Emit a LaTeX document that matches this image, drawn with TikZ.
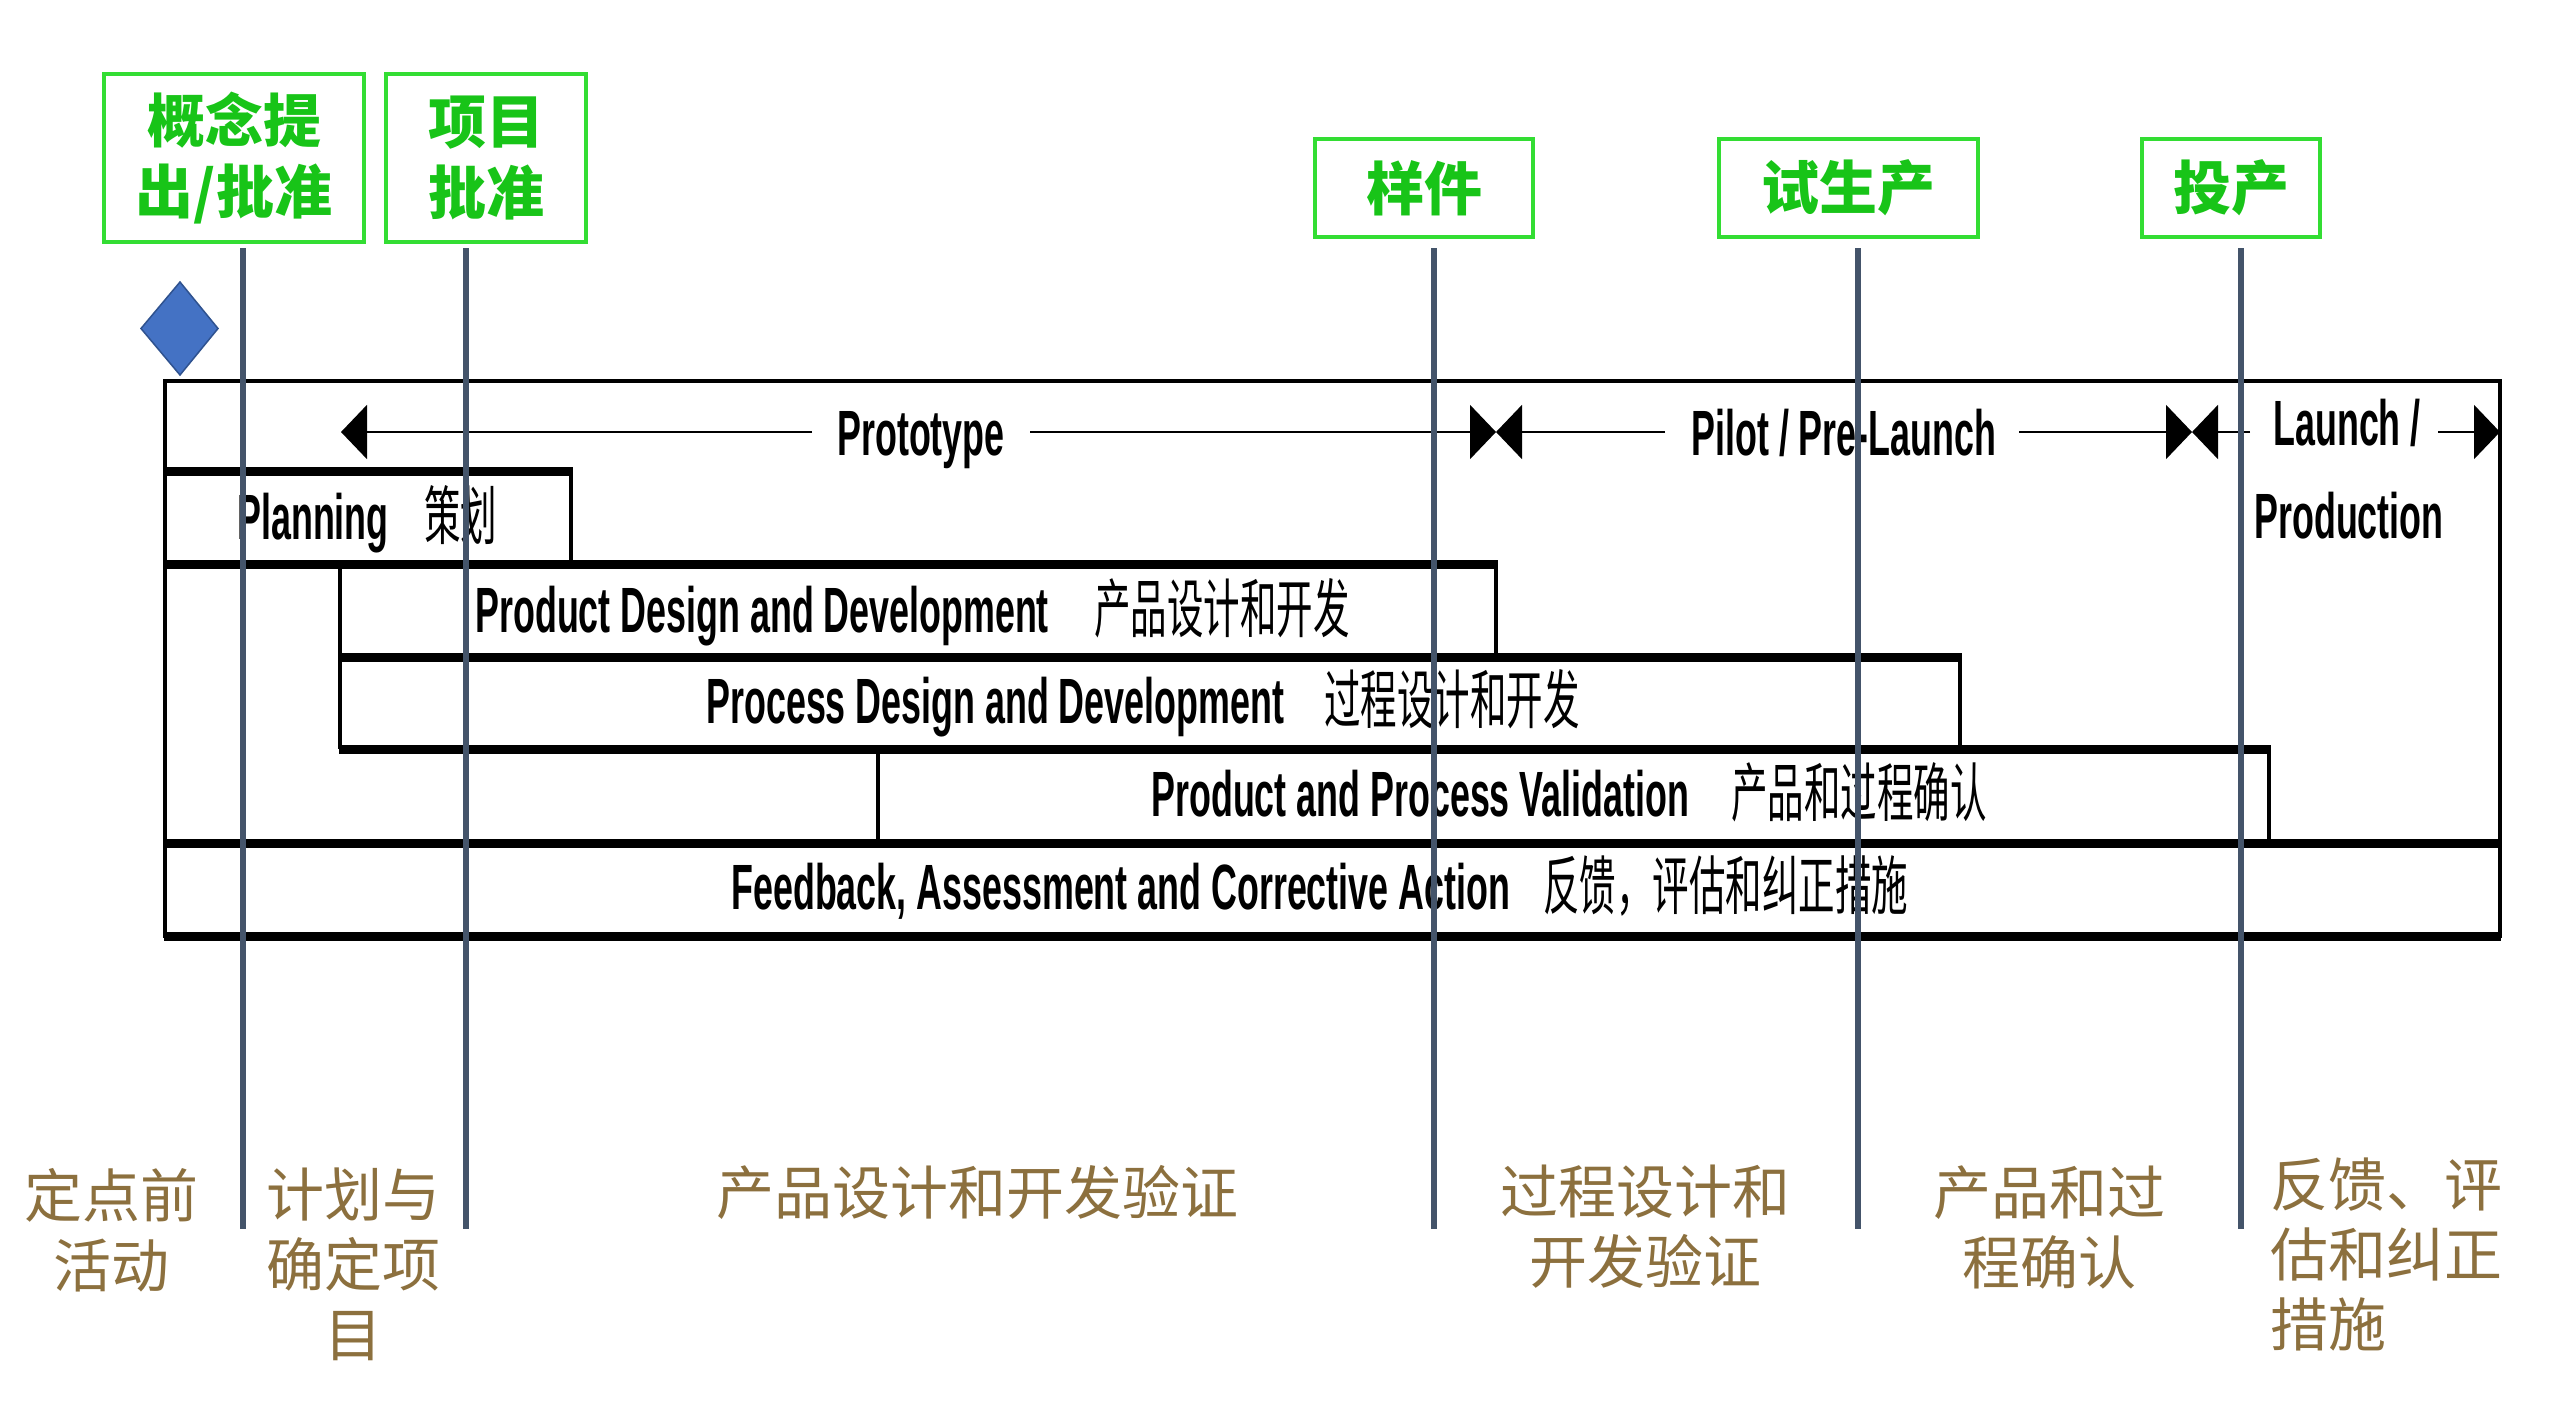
\documentclass[tikz,border=0pt]{standalone}
\usepackage{fontspec}
\usepackage{graphicx}
\setmainfont{Liberation Sans}
\newfontfamily\cjk{Noto Sans CJK SC}
\usetikzlibrary{arrows.meta}
\definecolor{gline}{RGB}{68,84,106}
\definecolor{gbox}{RGB}{51,221,51}
\definecolor{gtext}{RGB}{24,196,24}
\definecolor{brn}{RGB}{140,112,62}
\definecolor{dfill}{RGB}{68,114,196}
\definecolor{ddraw}{RGB}{47,82,143}
\newcommand{\En}[1]{\scalebox{0.56}[1]{\bfseries #1}}
\newcommand{\Zh}[1]{\scalebox{0.57}[1]{\cjk #1}}
\begin{document}
\begin{tikzpicture}[x=0.5pt,y=-0.5pt,
  milestone/.style={draw=gbox, line width=2pt, text=gtext,
    font=\cjk\bfseries\fontsize{29}{35.5}\selectfont, align=center,
    inner sep=0pt, minimum height=#1},
  en/.style={anchor=base west, inner sep=0pt, font=\fontsize{32}{38}\selectfont},
  lab/.style={text=brn, font=\cjk\fontsize{29}{35}\selectfont, align=center, inner sep=0pt},
  thinb/.style={line width=2pt, black},
  thickb/.style={line width=4.5pt, black},
  arr/.style={line width=1pt, -{Triangle[length=13pt,width=27pt]}},
  vline/.style={line width=3pt, gline}]
\useasboundingbox (0,0) rectangle (2560,1420);
\fill[white] (0,0) rectangle (2560,1420);

% ---- bars ----
\draw[thinb] (165,381) rectangle (2500,936);
\draw[thinb] (571,471) -- (571,564);
\draw[thinb] (340,564) -- (340,749);
\draw[thinb] (1496,564) -- (1496,657);
\draw[thinb] (1960,657) -- (1960,749);
\draw[thinb] (878,749) -- (878,843);
\draw[thinb] (2269,749) -- (2269,843);
\draw[thickb] (164,471) -- (573,471);
\draw[thickb] (164,564) -- (1498,564);
\draw[thickb] (339,657) -- (1962,657);
\draw[thickb] (339,749) -- (2271,749);
\draw[thickb] (164,843) -- (2501,843);
\draw[thickb] (164,936) -- (2501,936);

% ---- bar texts ----
\node[en] (plan)   at (237,539)  {\En{Planning}};
\node[en] (planzh) at (424,539)  {\Zh{策划}};
\node[en] (pdd)    at (475,632)  {\En{Product Design and Development}};
\node[en] (pddzh)  at (1094,632) {\Zh{产品设计和开发}};
\node[en] (prd)    at (706,723)  {\En{Process Design and Development}};
\node[en] (prdzh)  at (1324,723) {\Zh{过程设计和开发}};
\node[en] (ppv)    at (1151,816) {\En{Product and Process Validation}};
\node[en] (ppvzh)  at (1731,816) {\Zh{产品和过程确认}};
\node[en] (fac)    at (731,909)  {\En{Feedback, Assessment and Corrective Action}};
\node[en] (faczh)  at (1543,909) {\Zh{反馈，评估和纠正措施}};

% ---- phase arrows ----
\node[en] (proto)  at (837,455)  {\En{Prototype}};
\node[en] (pilot)  at (1691,455) {\En{Pilot / Pre-Launch}};
\node[en] (launch) at (2273,445) {\En{Launch /}};
\node[en] (prodn)  at (2254,538) {\En{Production}};
\coordinate (protoL) at (812,432);
\coordinate (protoR) at (1030,432);
\coordinate (pilotL) at (1665,432);
\coordinate (pilotR) at (2019,432);
\coordinate (launL)  at (2250,432);
\coordinate (launR)  at (2438,432);
\coordinate (tipA) at (341,432);
\coordinate (tipB) at (1496,432);
\coordinate (tipC) at (2192,432);
\coordinate (tipD) at (2500,432);
\draw[arr] (protoL) -- (tipA);
\draw[arr] (protoR) -- (tipB);
\draw[arr] (pilotL) -- (tipB);
\draw[arr] (pilotR) -- (tipC);
\draw[arr] (launL) -- (tipC);
\draw[arr] (launR) -- (tipD);

% ---- milestone lines ----
\foreach \n/\x in {1/243, 2/466, 3/1434, 4/1858, 5/2241}{
  \coordinate (v\n t) at (\x,248);
  \coordinate (v\n b) at (\x,1229);
}
\foreach \n in {1,...,5}{ \draw[vline] (v\n t) -- (v\n b); }

% ---- milestone boxes ----
\node[milestone=84pt, minimum width=130pt] (m1) at (234,158) {概念提\\出/批准};
\node[milestone=84pt, minimum width=100pt] (m2) at (486,158) {项目\\批准};
\node[milestone=49pt, minimum width=109pt] (m3) at (1424,188) {样件};
\node[milestone=49pt, minimum width=129.5pt] (m4) at (1848.5,188) {试生产};
\node[milestone=49pt, minimum width=89pt] (m5) at (2231,188) {投产};

% ---- diamond ----
\draw[fill=dfill, draw=ddraw, line width=0.75pt]
  (180,282) -- (218,328.5) -- (180,375) -- (141,328.5) -- cycle;

% ---- bottom labels ----
\node[lab] (l1) at (112,1230) {定点前\\活动};
\node[lab] (l2) at (353,1264) {计划与\\确定项\\目};
\node[lab] (l3) at (977,1192) {产品设计和开发验证};
\node[lab] (l4) at (1645,1227) {过程设计和\\开发验证};
\node[lab] (l5) at (2049,1227) {产品和过\\程确认};
\node[lab, align=left, anchor=west] (l6) at (2270,1254) {反馈、评\\估和纠正\\措施};
\end{tikzpicture}
\end{document}
